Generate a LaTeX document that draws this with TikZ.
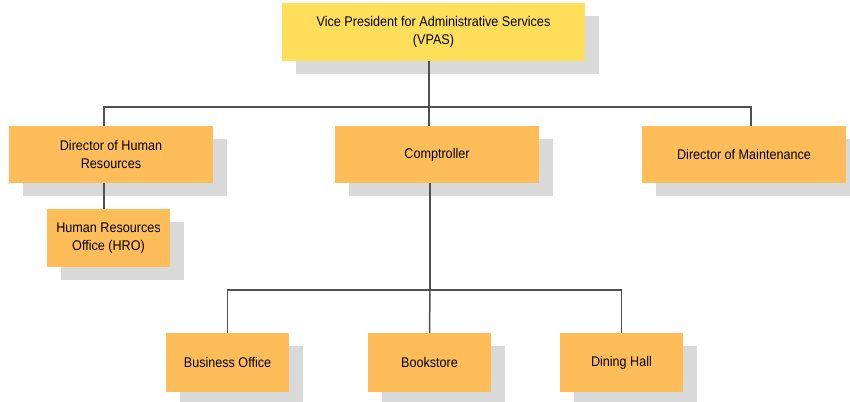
\documentclass[tikz,border=0pt]{standalone}
\usepackage{fontspec}
\setmainfont{Liberation Sans}[FakeStretch=0.9]
\usetikzlibrary{shadows}
\definecolor{vpyellow}{HTML}{FFDE59}
\definecolor{boxorange}{HTML}{FFBD59}
\definecolor{shadowgrey}{HTML}{D9D9D9}
\definecolor{linkgrey}{HTML}{505050}
\tikzset{
  orgbox/.style={fill=boxorange,draw=none,align=center,inner sep=0pt,
    minimum height=57bp,text=black,
    font=\fontsize{14bp}{18bp}\selectfont,
    drop shadow={shadow xshift=14bp,shadow yshift=-13bp,fill=shadowgrey,opacity=1}},
  link/.style={linkgrey,line width=1.5bp},
}
\begin{document}
\begin{tikzpicture}[line join=miter]
%%
\fill [white] (0bp,0bp) rectangle (850bp,-402bp);
\useasboundingbox (0bp,0bp) rectangle (850bp,-402bp);
%%
\node (node_vpas) at (433.5bp,-32bp) [orgbox,fill=vpyellow,minimum width=303bp,minimum height=58bp] {Vice President for Administrative Services\\(VPAS)};
  \node (node_hr) at (111bp,-154.5bp) [orgbox,minimum width=204bp] {Director of Human\\Resources};
  \node (node_comp) at (437bp,-154.5bp) [orgbox,minimum width=204bp] {Comptroller};
  \node (node_maint) at (744bp,-154.5bp) [orgbox,minimum width=204bp] {Director of Maintenance};
  \node (node_hro) at (108.5bp,-238bp) [orgbox,minimum width=123bp,minimum height=58bp] {Human Resources\\Office (HRO)};
  \node (node_biz) at (227.5bp,-362.5bp) [orgbox,minimum width=123bp,minimum height=59bp] {Business Office};
  \node (node_book) at (429.5bp,-362.5bp) [orgbox,minimum width=123bp,minimum height=59bp] {Bookstore};
  \node (node_dine) at (621.5bp,-362.5bp) [orgbox,minimum width=123bp,minimum height=59bp] {Dining Hall};
%
\coordinate (bar_top) at (429bp,-107bp);
  \coordinate (bar_hr) at (104bp,-107bp);
  \coordinate (bar_maint) at (751bp,-107bp);
  \coordinate (bar_low) at (430bp,-290bp);
%
\draw [link] (node_vpas.south -| bar_top) -- (bar_top);
  \draw [link] (node_hr.north -| bar_hr) |- (bar_top) -| (node_maint.north -| bar_maint);
  \draw [link] (bar_top) -- (node_comp.north -| bar_top);
  \draw [link] (node_hr.south -| bar_hr) -- (node_hro.north -| bar_hr);
  \draw [link] (node_comp.south -| bar_low) -- (bar_low);
  \draw [link] (node_biz.north) |- (bar_low) -| (node_dine.north);
  \draw [link] (bar_low) -- (node_book.north);
%
\end{tikzpicture}
\end{document}
